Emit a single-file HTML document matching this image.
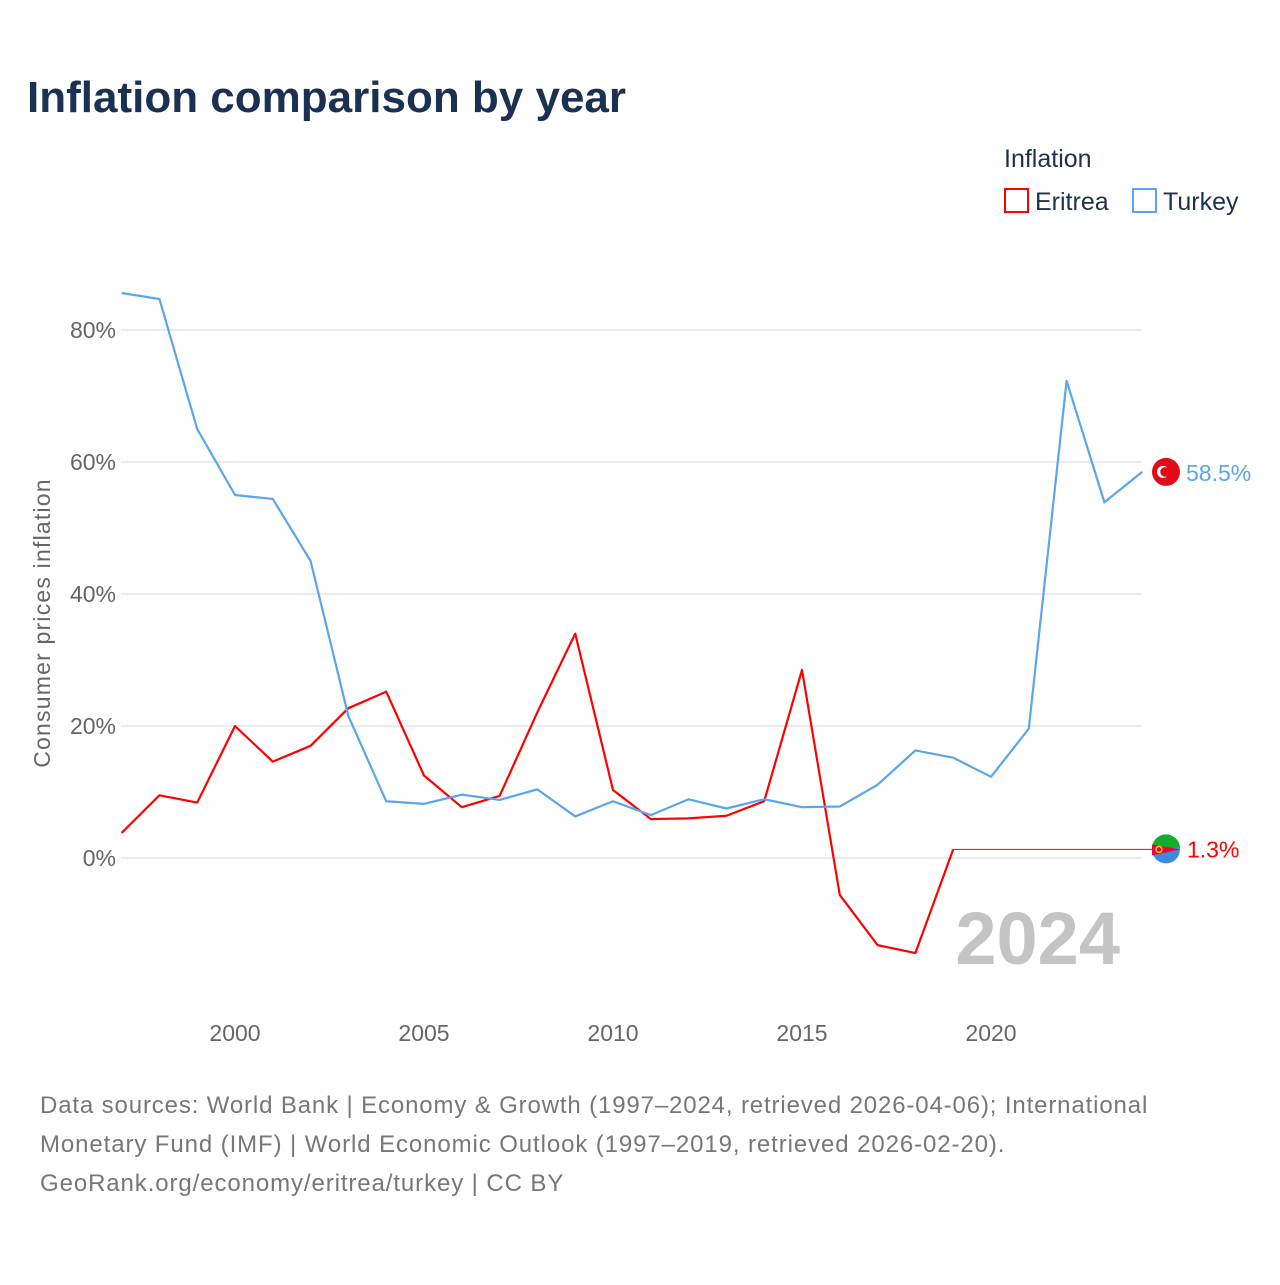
<!DOCTYPE html>
<html><head><meta charset="utf-8"><style>
body{margin:0;background:#fff;font-family:"Liberation Sans",sans-serif}
</style></head><body>
<svg width="1280" height="1280" xmlns="http://www.w3.org/2000/svg" font-family="Liberation Sans, sans-serif">
<rect width="1280" height="1280" fill="#fff"/>
<text x="27" y="112" font-size="44" font-weight="bold" fill="#1b3153">Inflation comparison by year</text>
<text x="1004" y="167" font-size="25" fill="#1b3153">Inflation</text>
<g><rect x="1005" y="189" width="23" height="23" fill="none" stroke="#f00" stroke-width="2"/><text x="1035" y="210" font-size="25" fill="#1b3153">Eritrea</text></g>
<g><rect x="1133" y="189" width="23" height="23" fill="none" stroke="#5aa5ec" stroke-width="2"/><text x="1163" y="210" font-size="25" fill="#1b3153">Turkey</text></g>
<g id="grid"></g><g id="ylabels"></g><g id="xlabels"></g>
<text transform="translate(50,623) rotate(-90)" text-anchor="middle" font-size="23" letter-spacing="1.2" fill="#666">Consumer prices inflation</text>
<text x="1120" y="964" text-anchor="end" font-size="74" font-weight="bold" fill="#c4c4c4">2024</text>
<g id="series"></g>
<text x="40" y="1113" font-size="24" letter-spacing="0.86" fill="#777">Data sources: World Bank | Economy &amp; Growth (1997–2024, retrieved 2026-04-06); International</text>
<text x="40" y="1152" font-size="24" letter-spacing="0.9" fill="#777">Monetary Fund (IMF) | World Economic Outlook (1997–2019, retrieved 2026-02-20).</text>
<text x="40" y="1191" font-size="24" letter-spacing="0.9" fill="#777">GeoRank.org/economy/eritrea/turkey | CC BY</text>
</svg>
<script>
const years=[1997,1998,1999,2000,2001,2002,2003,2004,2005,2006,2007,2008,2009,2010,2011,2012,2013,2014,2015,2016,2017,2018,2019,2020,2021,2022,2023,2024];
const turkey=[85.6,84.7,65.0,55.0,54.4,45.0,21.5,8.6,8.2,9.6,8.8,10.4,6.3,8.6,6.5,8.9,7.5,8.9,7.7,7.8,11.1,16.3,15.2,12.3,19.6,72.3,53.9,58.5];
const eritrea=[3.8,9.5,8.4,20.0,14.6,17.0,22.7,25.2,12.5,7.7,9.4,22.1,34.0,10.3,5.9,6.0,6.4,8.6,28.5,-5.6,-13.2,-14.4,1.3];
const yTicks=[0,20,40,60,80];
const xTicks=[2000,2005,2010,2015,2020];
const NS="http://www.w3.org/2000/svg";
const X=y=>235+(y-2000)*37.8, Y=v=>858-v*6.6;
function mk(t,a,p){const e=document.createElementNS(NS,t);for(const k in a)e.setAttribute(k,a[k]);p.appendChild(e);return e;}
const g=document.getElementById('grid'),yl=document.getElementById('ylabels'),xl=document.getElementById('xlabels'),s=document.getElementById('series');
yTicks.forEach(v=>{
 const l=mk('line',{x1:121,x2:1142,y1:Y(v),y2:Y(v),stroke:'#e6e6e6','stroke-width':1.5},g);
 
 
 const t=mk('text',{x:116,y:Y(v)+8,'text-anchor':'end','font-size':23,fill:'#666'},yl);t.textContent=v+'%';
 
 
});
xTicks.forEach(v=>{
 const t=mk('text',{x:X(v),y:1041,'text-anchor':'middle','font-size':23,fill:'#666'},xl);t.textContent=v;
 
 
});
const ep=eritrea.map((v,i)=>X(years[i])+','+Y(v)).join(' ');
const el=mk('polyline',{points:ep,fill:'none',stroke:'#f00','stroke-width':2.2,'stroke-linejoin':'round'},s);


const eLast=eritrea[eritrea.length-1];
const ext=mk('line',{x1:X(years[eritrea.length-1]),y1:Y(eLast),x2:1160,y2:Y(eLast),stroke:'#f00','stroke-width':1},s);


const tp=turkey.map((v,i)=>X(years[i])+','+Y(v)).join(' ');
const tl=mk('polyline',{points:tp,fill:'none',stroke:'#5aa5ec','stroke-width':2.2,'stroke-linejoin':'round'},s);


const tLast=turkey[turkey.length-1];
const tf=mk('circle',{cx:1166,cy:Y(tLast),r:14,fill:'#e30a17'},s);


mk('circle',{cx:1163,cy:Y(tLast),r:6,fill:'#fff'},s);mk('circle',{cx:1165,cy:Y(tLast),r:4.8,fill:'#e30a17'},s);
const tt=mk('text',{x:1186,y:Y(tLast)+9,'font-size':23,fill:'#5aa5ec'},s);tt.textContent=tLast+'%';


const ey=Y(eLast);
const ef=mk('circle',{cx:1166,cy:ey,r:14,fill:'#4189dd'},s);


mk('path',{d:`M1152,${ey} A14,14 0 0 1 1180,${ey-2} Z`,fill:'#12ad2b'},s);
mk('path',{d:`M1152,${ey-5} L1180,${ey} L1152,${ey+6} Z`,fill:'#ea0437'},s);
mk('circle',{cx:1159,cy:ey,r:3,fill:'none',stroke:'#ffc726','stroke-width':1.5},s);
const et=mk('text',{x:1187,y:ey+8,'font-size':23,fill:'#f00'},s);et.textContent=eLast+'%';


</script>
</body></html>
